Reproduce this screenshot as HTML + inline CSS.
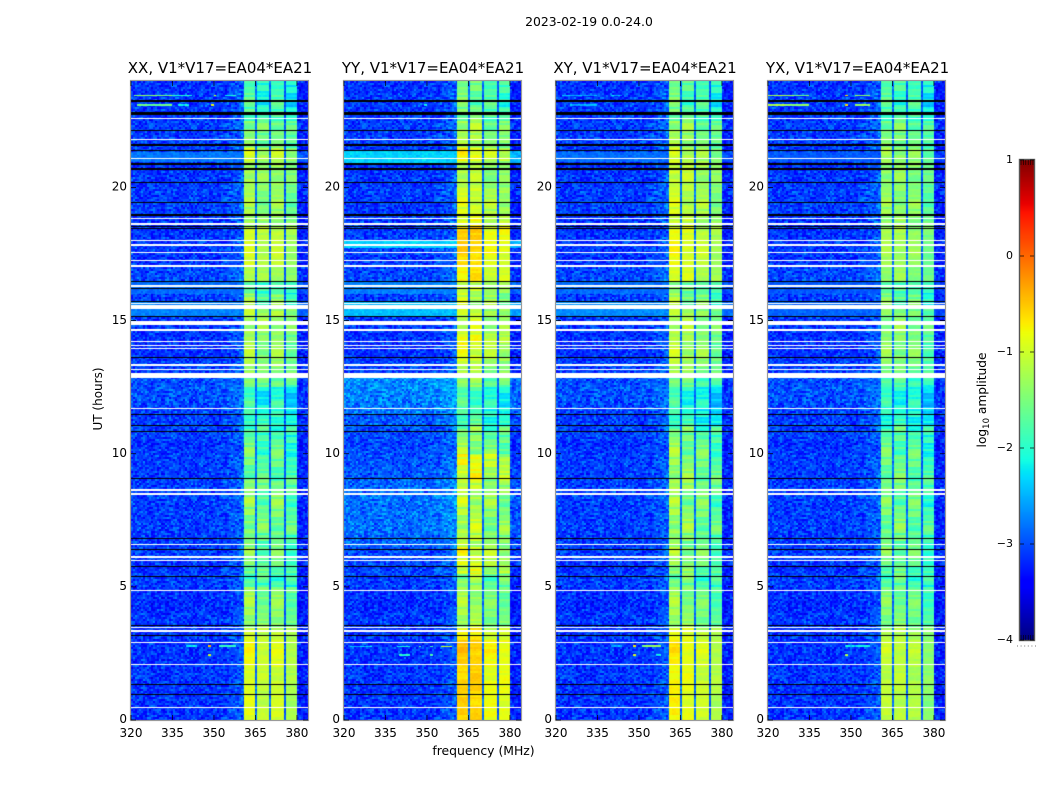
<!DOCTYPE html>
<html lang="en">
<head>
<meta charset="utf-8">
<title>2023-02-19 0.0-24.0</title>
<style>
html,body{margin:0;padding:0;background:#fff;}
#figure{position:relative;width:1050px;height:800px;overflow:hidden;background:#fff;}
canvas{position:absolute;display:block;}
svg{position:absolute;left:0;top:0;}
text{font-family:"DejaVu Sans","Liberation Sans",sans-serif;fill:#000;}
</style>
</head>
<body>
<div id="figure">
<canvas id="hm0" width="177" height="639" style="left:131px;top:81px"></canvas>
<canvas id="hm1" width="177" height="639" style="left:344px;top:81px"></canvas>
<canvas id="hm2" width="177" height="639" style="left:556px;top:81px"></canvas>
<canvas id="hm3" width="177" height="639" style="left:768px;top:81px"></canvas>
<canvas id="cbar" width="14" height="480" style="left:1020px;top:160px"></canvas>
<svg id="overlay" width="1050" height="800" viewBox="0 0 1050 800">
  <text x="589" y="26" text-anchor="middle" font-size="12.4">2023-02-19 0.0-24.0</text>
  <text x="220" y="73" text-anchor="middle" font-size="15">XX, V1*V17=EA04*EA21</text>
  <text x="433" y="73" text-anchor="middle" font-size="15">YY, V1*V17=EA04*EA21</text>
  <text x="645" y="73" text-anchor="middle" font-size="15">XY, V1*V17=EA04*EA21</text>
  <text x="857.5" y="73" text-anchor="middle" font-size="15">YX, V1*V17=EA04*EA21</text>
  <text x="483.5" y="755" text-anchor="middle" font-size="12.4">frequency (MHz)</text>
  <text transform="translate(102,399) rotate(-90)" text-anchor="middle" font-size="12">UT (hours)</text>
  <text transform="translate(986,400) rotate(-90)" text-anchor="middle" font-size="12.2">log<tspan font-size="8.5" dy="3">10</tspan><tspan dy="-3"> amplitude</tspan></text>
</svg>
</div>
<script>
/* ---- tick labels ---- */
const freqTicks = [320, 335, 350, 365, 380];
const hourTicks = [0, 5, 10, 15, 20];
const cbarTicks = [1, 0, -1, -2, -3, -4];

/* ---- polarisation panels ---- */
const panelNames = ['xx', 'yy', 'xy', 'yx'];

/* band-mean log10 amplitude, one value per half hour from 0 UT */
const xxBandLevels = [-1.05,-1.1,-1.1,-1.1,-1.0,-1.0,-1.15,-1.5,-1.5,-1.5,-1.9,-1.7,-1.65,-1.7,-1.6,-1.6,-1.6,-1.6,-1.8,-1.75,-1.8,-1.9,-2.0,-2.05,-2.2,-1.6,-1.45,-1.4,-1.45,-1.4,-1.3,-1.6,-1.9,-1.3,-1.15,-1.15,-1.15,-1.4,-1.45,-1.45,-1.4,-1.4,-1.2,-1.6,-1.6,-1.9,-2.0,-2.0];
const yyBandLevels = [-0.7,-0.75,-0.7,-0.75,-0.7,-0.65,-0.9,-1.4,-1.4,-1.45,-1.55,-1.1,-1.1,-1.3,-1.3,-1.35,-1.3,-1.25,-1.05,-1.0,-1.5,-1.6,-1.9,-1.95,-2.0,-1.5,-1.3,-1.1,-1.0,-1.2,-1.2,-1.3,-1.25,-0.85,-0.8,-0.7,-0.7,-1.0,-1.1,-1.15,-1.3,-1.3,-0.95,-1.35,-1.4,-1.65,-1.75,-1.7];
const xyBandLevels = [-0.95,-1.0,-0.95,-1.0,-0.95,-0.9,-1.05,-1.5,-1.5,-1.55,-1.75,-1.55,-1.5,-1.6,-1.5,-1.5,-1.55,-1.45,-1.5,-1.55,-1.6,-1.7,-2.05,-2.1,-2.15,-1.7,-1.4,-1.3,-1.4,-1.35,-1.35,-1.55,-1.7,-1.1,-1.05,-1.0,-1.05,-1.2,-1.2,-1.25,-1.25,-1.2,-1.25,-1.45,-1.5,-1.75,-1.85,-1.8];
const yxBandLevels = [-1.2,-1.25,-1.2,-1.25,-1.2,-1.15,-1.3,-1.6,-1.6,-1.65,-1.85,-1.75,-1.65,-1.7,-1.65,-1.65,-1.7,-1.65,-1.7,-1.7,-1.8,-1.85,-2.1,-2.1,-2.15,-1.85,-1.6,-1.5,-1.55,-1.5,-1.55,-1.7,-1.85,-1.45,-1.4,-1.35,-1.35,-1.45,-1.45,-1.5,-1.5,-1.45,-1.45,-1.6,-1.65,-1.9,-1.95,-1.9];

/* per-band offset of each panel, band 1..4 */
const xxBandOffsets = [0.18, 0.0, 0.08, -0.15];
const yyBandOffsets = [0.15, 0.15, -0.12, -0.15];
const xyBandOffsets = [0.22, 0.1, -0.05, -0.22];
const yxBandOffsets = [0.12, 0.1, 0.03, -0.2];

/* off-band background level, one value per half hour from 0 UT */
const xxBackground = [-3.15,-3.15,-3.15,-3.15,-3.15,-3.15,-3.15,-3.15,-3.2,-3.15,-3.1,-3.15,-3.1,-3.1,-3.1,-3.1,-3.1,-3.1,-3.1,-3.1,-3.15,-3.1,-3.1,-3.05,-3.0,-3.0,-3.1,-3.15,-3.15,-3.15,-3.1,-3.1,-3.1,-3.05,-3.15,-3.15,-3.15,-3.15,-3.1,-3.1,-3.15,-3.15,-3.1,-3.1,-3.1,-3.15,-3.1,-3.15];
const yyBackground = [-3.15,-3.15,-3.15,-3.15,-3.15,-3.15,-3.15,-3.15,-3.2,-3.15,-3.1,-3.05,-3.05,-2.9,-2.85,-2.85,-2.85,-2.9,-2.95,-3.0,-3.05,-3.05,-2.95,-2.8,-2.75,-2.7,-3.1,-3.15,-3.15,-3.15,-3.1,-3.1,-3.1,-3.05,-3.1,-3.1,-3.1,-3.1,-3.15,-3.1,-3.15,-3.15,-3.1,-3.1,-3.1,-3.15,-3.1,-3.15];
const xyBackground = [-3.15,-3.15,-3.15,-3.15,-3.15,-3.15,-3.15,-3.15,-3.2,-3.15,-3.1,-3.15,-3.1,-3.1,-3.1,-3.1,-3.1,-3.1,-3.1,-3.1,-3.15,-3.1,-3.1,-3.05,-3.0,-3.0,-3.1,-3.15,-3.15,-3.15,-3.1,-3.1,-3.1,-3.05,-3.15,-3.15,-3.15,-3.15,-3.1,-3.1,-3.15,-3.15,-3.1,-3.1,-3.1,-3.15,-3.1,-3.15];
const yxBackground = [-3.15,-3.15,-3.15,-3.15,-3.15,-3.15,-3.15,-3.15,-3.2,-3.15,-3.1,-3.15,-3.1,-3.1,-3.1,-3.1,-3.1,-3.1,-3.1,-3.1,-3.15,-3.1,-3.1,-3.05,-3.0,-3.0,-3.1,-3.15,-3.15,-3.15,-3.1,-3.1,-3.1,-3.05,-3.15,-3.15,-3.15,-3.15,-3.1,-3.1,-3.15,-3.15,-3.1,-3.1,-3.1,-3.15,-3.1,-3.15];

/* how strongly the bands are striped in time, one value per half hour */
const stripeGain = [0.4,0.4,0.4,0.5,0.4,0.5,0.7,1.0,1.0,1.2,1.5,1.4,1.2,1.4,1.5,1.5,1.5,1.4,1.3,1.5,1.6,1.5,1.3,1.2,1.1,1.1,0.9,0.9,1.0,1.0,1.1,1.4,1.3,0.6,0.4,0.4,0.6,0.9,1.0,0.8,0.8,0.8,0.7,1.1,1.2,1.5,1.5,1.4];

/* receiver sub-band edges in MHz */
const bandStarts = [360.7, 365.7, 370.8, 376.1];
const bandEnds = [364.9, 370.0, 375.3, 380.0];
/* level of the dips between the sub-bands, in MHz order */
const gapLevels = [-2.85, -2.85, -2.95];

/* flagged integrations: centre UT hour, duration in hours */
const blankHours = [0.47,2.09,2.92,3.34,3.47,4.87,5.98,6.11,6.6,8.49,8.64,11.71,12.94,13.17,13.33,13.96,14.06,14.21,14.65,14.92,15.5,15.65,16.3,17.05,17.25,17.55,17.84,18.0,18.63,18.84,21.1,21.8,22.6];
const blankWidths = [0.05,0.05,0.05,0.06,0.06,0.05,0.05,0.08,0.05,0.05,0.08,0.04,0.2,0.05,0.05,0.04,0.04,0.05,0.05,0.16,0.16,0.04,0.05,0.05,0.05,0.05,0.05,0.05,0.05,0.05,0.05,0.05,0.05];
const darkHours = [0.965,1.33,3.17,3.55,5.4,5.77,6.41,6.82,9.08,10.85,11.05,11.48,13.61,15.15,15.71,16.2,16.46,18.47,18.53,18.97,19.42,19.53,20.18,20.7,20.88,21.38,21.6,22.13,22.78,23.26];
const darkWidths = [0.05,0.05,0.05,0.05,0.05,0.05,0.04,0.04,0.05,0.04,0.04,0.04,0.05,0.05,0.04,0.05,0.05,0.05,0.05,0.05,0.035,0.035,0.05,0.09,0.05,0.05,0.05,0.04,0.09,0.09];

/* broadband bursts in the off-band background */
const burstPanels = [0,0,0,1,1,1,1,2,2,2,3,3,3];
const burstFrom = [20.95,15.15,16.0,20.9,15.15,17.72,16.0,20.95,15.15,16.0,20.95,15.15,16.0];
const burstTo = [21.35,15.7,16.45,21.4,15.7,18.0,16.5,21.35,15.7,16.45,21.35,15.7,16.45];
const burstLevels = [-2.8,-2.75,-2.85,-2.35,-2.45,-2.35,-2.75,-2.85,-2.7,-2.85,-2.95,-2.9,-2.95];

/* narrow interference lines: panel index, UT hour, MHz range, log10 amplitude */
const rfiPanels = [0,0,0,0,0,0,0,0,0,0,0, 1,1,1,1,1,1,1,1, 2,2,2,2,2,2,2,2, 3,3,3,3,3,3,3,3,3,3];
const rfiHours = [23.47,23.47,23.47,23.47,23.1,23.1,23.1,2.78,2.78,2.78,2.44, 23.1,2.75,2.75,2.75,2.75,2.75,2.44,2.44, 2.78,2.78,2.78,2.44,2.44,23.47,23.1,23.47, 23.47,23.47,23.47,23.47,23.1,23.1,23.1,23.1,2.78,2.44];
const rfiFrom = [321,335,349.9,354,322,337,349,340,348,352,348, 349,322,339,347,351,355,340,351, 340,348,351,348,356,322,325,340, 320,328,348,351.5,320,328,348,351.5,348,348];
const rfiTo = [335,342,350.7,358,335,341,350,344,349,358,349, 350,330,344,348,352,359,344,352, 344,349,358,349,358,335,335,344, 328,335,349,357,328,335,349,357,357,349];
const rfiLevels = [-1.4,-2.1,-1.0,-2.1,-1.6,-2.2,-0.8,-2.3,-0.5,-2.0,-1.0, -2.1,-2.4,-2.2,-1.6,-1.7,-1.1,-2.0,-1.8, -2.6,-0.8,-1.4,-1.0,-2.1,-2.5,-2.5,-2.5, -1.2,-1.4,-0.5,-1.3,-1.2,-1.4,-0.6,-1.3,-2.2,-1.2];

/* hand-chosen fine-grain speckle and horizontal striping residuals */
const speckleA = [0.12,-0.22,0.31,-0.05,0.18,-0.3,0.08,0.26,-0.14,0.03,-0.27,0.21,-0.09,0.34,-0.18,0.06,-0.33,0.15,0.24,-0.11,-0.02,0.29,-0.25,0.1,-0.16,0.2,-0.07,0.33,-0.28,0.01,0.17];
const speckleB = [-0.1,0.2,-0.26,0.14,0.02,-0.18,0.27,-0.06,0.11,-0.31,0.23,0.05,-0.15,0.3,-0.21,0.09,-0.03,0.19,-0.28,0.16,0.0,-0.12,0.25,-0.23,0.07,0.13,-0.19,0.28,-0.08,-0.24,0.22,0.04,-0.17,0.26,-0.29,0.1,-0.01];
const stripes = [0.06,-0.1,0.14,0.02,-0.2,0.08,0.18,-0.06,-0.16,0.1,0.0,-0.24,0.12,0.2,-0.08,0.04,-0.14,0.16,-0.02,-0.18,0.22,0.06,-0.12,0.09,-0.05];

const bandLevelSets = [xxBandLevels, yyBandLevels, xyBandLevels, yxBandLevels];
const bandOffsetSets = [xxBandOffsets, yyBandOffsets, xyBandOffsets, yxBandOffsets];
const backgroundSets = [xxBackground, yyBackground, xyBackground, yxBackground];

/* ---- scales ---- */
const FREQ_MIN = 320, FREQ_MAX = 384, HOUR_MAX = 24;
const PLOT_W = 177, PLOT_H = 639, PLOT_TOP = 81;
const panelLefts = [131, 344, 556, 768];
const CB_LEFT = 1020, CB_W = 14, CB_TOP = 160, CB_H = 480;
function xScale(mhz){ return (mhz - FREQ_MIN) / (FREQ_MAX - FREQ_MIN) * PLOT_W; }
function xInvert(px){ return FREQ_MIN + px / PLOT_W * (FREQ_MAX - FREQ_MIN); }
function yScale(h){ return PLOT_H * (1 - h / HOUR_MAX); }
function yInvert(px){ return (1 - px / PLOT_H) * HOUR_MAX; }
function cbScale(v){ return CB_TOP + (1 - v) / 5 * CB_H; }

function ramp(t, pts){
  for(let i = 1; i < pts.length; i++){
    if(t <= pts[i][0]){
      const a = pts[i-1], b = pts[i];
      return a[1] + (b[1]-a[1]) * (t-a[0]) / (b[0]-a[0]);
    }
  }
  return pts[pts.length-1][1];
}
const jetR = [[0,0],[0.35,0],[0.66,1],[0.89,1],[1,0.5]];
const jetG = [[0,0],[0.125,0],[0.375,1],[0.64,1],[0.91,0],[1,0]];
const jetB = [[0,0.5],[0.11,1],[0.34,1],[0.65,0],[1,0]];
function jet(value){
  const t = Math.max(0, Math.min(1, (value + 4) / 5));
  return [ramp(t,jetR)*255, ramp(t,jetG)*255, ramp(t,jetB)*255];
}

function matchFlag(hour, centres, widths){
  for(let i = 0; i < centres.length; i++){
    if(Math.abs(hour - centres[i]) <= widths[i] / 2) return true;
  }
  return false;
}
function bandIndex(mhz){
  for(let i = 0; i < bandStarts.length; i++){
    if(mhz >= bandStarts[i] && mhz < bandEnds[i]) return i;
  }
  return -1;
}
function gapIndex(mhz){
  for(let i = 0; i < gapLevels.length; i++){
    if(mhz >= bandEnds[i] && mhz < bandStarts[i + 1]) return i;
  }
  return -1;
}
function burstLevel(p, hour){
  for(let i = 0; i < burstPanels.length; i++){
    if(burstPanels[i] === p && hour >= burstFrom[i] && hour < burstTo[i]) return burstLevels[i];
  }
  return null;
}

/* ---- heatmaps ---- */
function drawHeatmap(p){
  const ctx = document.getElementById('hm' + p).getContext('2d');
  const img = ctx.createImageData(PLOT_W, PLOT_H);
  const levels = bandLevelSets[p], offsets = bandOffsetSets[p], bg = backgroundSets[p];
  for(let r = 0; r < PLOT_H; r++){
    const hour = yInvert(r + 0.5);
    const bin = Math.min(47, Math.floor(hour * 2));
    const blank = matchFlag(hour, blankHours, blankWidths);
    const dark = matchFlag(hour, darkHours, darkWidths);
    const rowBlock = Math.floor(r / 2);
    const stripeRow = Math.floor(r / 2);
    const burst = burstLevel(p, hour);
    for(let c = 0; c < PLOT_W; c++){
      const k = (r * PLOT_W + c) * 4;
      let rgb;
      if(blank) rgb = [255,255,255];
      else if(dark) rgb = [0,0,0];
      else {
        const mhz = xInvert(c + 0.5);
        const colBlock = Math.floor(c / 2);
        const noise = speckleA[(colBlock * colBlock + rowBlock * 7) % speckleA.length]
                    + speckleB[(colBlock * 3 + rowBlock * rowBlock) % speckleB.length];
        const b = bandIndex(mhz);
        const g = gapIndex(mhz);
        let v;
        if(b >= 0){
          const stripe = stripes[(stripeRow * 7 + b * 9) % stripes.length];
          v = levels[bin] + offsets[b] + stripe * stripeGain[bin] + noise * 0.1;
        } else if(g >= 0){
          v = gapLevels[g] + noise * 0.35;
        } else if(mhz >= bandEnds[3]){
          v = (burst === null ? bg[bin] - 0.1 + noise * 0.7 : burst - 0.15 + noise * 0.3);
        } else if(burst !== null){
          v = burst + noise * 0.25;
        } else {
          v = bg[bin] + Math.max(0, mhz - 352) * 0.025 + noise * 0.7;
        }
        for(let i = 0; i < rfiHours.length; i++){
          if(rfiPanels[i] === p && Math.abs(hour - rfiHours[i]) < 0.022 && mhz >= rfiFrom[i] && mhz <= rfiTo[i]){
            v = rfiLevels[i] + noise * 0.5;
          }
        }
        rgb = jet(v);
      }
      img.data[k] = rgb[0];
      img.data[k+1] = rgb[1];
      img.data[k+2] = rgb[2];
      img.data[k+3] = 255;
    }
  }
  ctx.putImageData(img, 0, 0);
}
panelNames.forEach(function(name, p){ drawHeatmap(p); });

/* ---- colorbar ---- */
(function(){
  const ctx = document.getElementById('cbar').getContext('2d');
  for(let r = 0; r < CB_H; r++){
    const rgb = jet(1 - (r + 0.5) / CB_H * 5);
    ctx.fillStyle = 'rgb(' + Math.round(rgb[0]) + ',' + Math.round(rgb[1]) + ',' + Math.round(rgb[2]) + ')';
    ctx.fillRect(0, r, CB_W, 1);
  }
})();

/* ---- axes overlay ---- */
const SVGNS = 'http://www.w3.org/2000/svg';
const overlay = document.getElementById('overlay');
function line(x1, y1, x2, y2, colour, width){
  const el = document.createElementNS(SVGNS, 'line');
  el.setAttribute('x1', x1);
  el.setAttribute('y1', y1);
  el.setAttribute('x2', x2);
  el.setAttribute('y2', y2);
  el.setAttribute('stroke', colour);
  el.setAttribute('stroke-width', width);
  overlay.appendChild(el);
  return el;
}
function label(x, y, str, anchor){
  const el = document.createElementNS(SVGNS, 'text');
  el.setAttribute('x', x);
  el.setAttribute('y', y);
  el.setAttribute('text-anchor', anchor);
  el.setAttribute('font-size', '12');
  el.textContent = str;
  overlay.appendChild(el);
  return el;
}
panelNames.forEach(function(name, p){
  const left = panelLefts[p];
  const frame = document.createElementNS(SVGNS, 'rect');
  frame.setAttribute('x', left - 0.5);
  frame.setAttribute('y', PLOT_TOP - 0.5);
  frame.setAttribute('width', PLOT_W + 1);
  frame.setAttribute('height', PLOT_H + 1);
  frame.setAttribute('fill', 'none');
  frame.setAttribute('stroke', '#9a9a9a');
  frame.setAttribute('stroke-width', '1.2');
  
  
  overlay.appendChild(frame);

  freqTicks.forEach(function(f){
    const x = left + xScale(f);
    const tickBottom = line(x, PLOT_TOP + PLOT_H, x, PLOT_TOP + PLOT_H - 5, '#000', 0.7);
    
    
    const tickTop = line(x, PLOT_TOP, x, PLOT_TOP + 5, '#000', 0.7);
    
    
    const t = label(x, 737, String(f), 'middle');
    
    
  });
  hourTicks.forEach(function(h){
    const y = PLOT_TOP + yScale(h);
    const tickLeft = line(left, y, left + 5, y, '#000', 0.7);
    
    
    const tickRight = line(left + PLOT_W, y, left + PLOT_W - 5, y, '#000', 0.7);
    
    
    const t = label(left - 4, y + 3.2, String(h), 'end');
    
    
  });
});

const cbFrame = document.createElementNS(SVGNS, 'rect');
cbFrame.setAttribute('x', CB_LEFT - 0.5);
cbFrame.setAttribute('y', CB_TOP - 0.5);
cbFrame.setAttribute('width', CB_W + 1);
cbFrame.setAttribute('height', CB_H + 1);
cbFrame.setAttribute('fill', 'none');
cbFrame.setAttribute('stroke', '#555');
cbFrame.setAttribute('stroke-width', '1.4');


overlay.appendChild(cbFrame);

cbarTicks.forEach(function(v){
  const y = cbScale(v);
  const a = line(CB_LEFT, y, CB_LEFT + 4, y, '#000', 0.7);
  
  
  const b = line(CB_LEFT + CB_W, y, CB_LEFT + CB_W - 4, y, '#000', 0.7);
  
  
  const t = label(1013, y + 3, String(v).replace('-', '\u2212'), 'end');
  t.setAttribute('font-size', '11');
  
  
});
[0, 1, 2, 3, 4, 5].forEach(function(i){
  const x = CB_LEFT + 1 + i * 2.4;
  const a = line(x, CB_TOP, x, CB_TOP + 5, '#000', 0.6);
  
  
  const b = line(x, CB_TOP + CB_H, x, CB_TOP + CB_H - 5, '#000', 0.6);
  
  
  const dot = line(CB_LEFT - 3 + i * 3.6, 646, CB_LEFT - 2 + i * 3.6, 646, '#777', 1);
  
  
});
</script>
</body>
</html>
